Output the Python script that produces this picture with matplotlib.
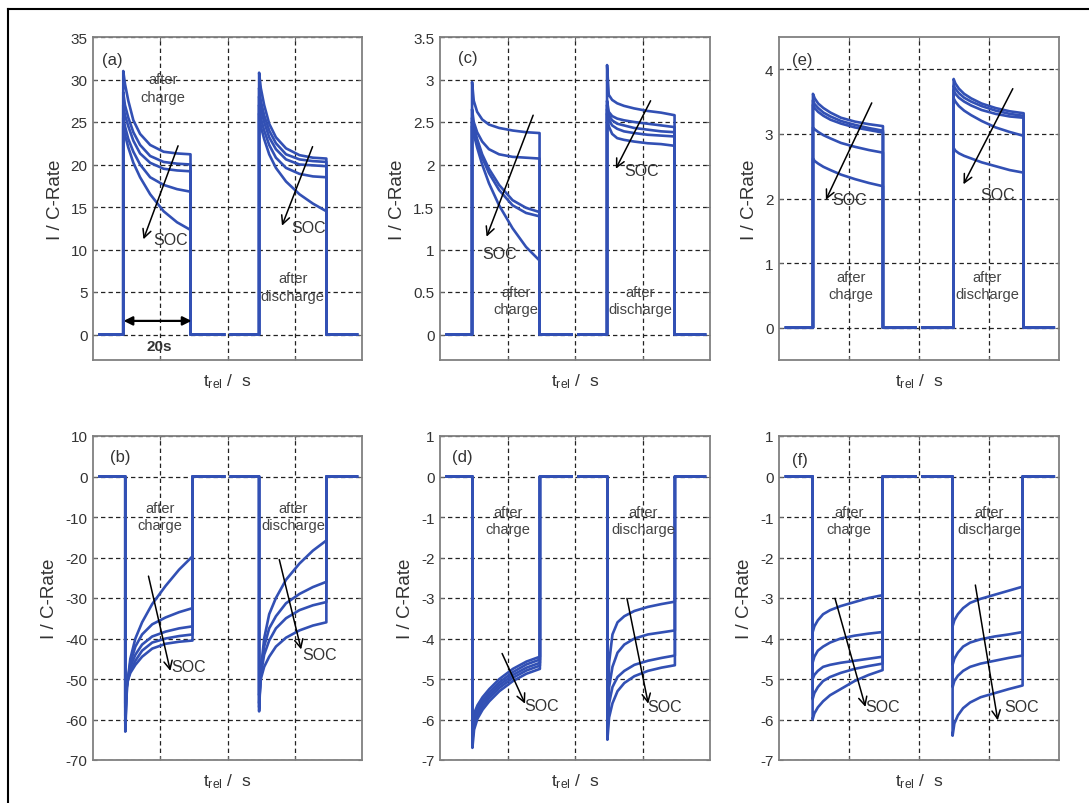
import numpy as np
import matplotlib.pyplot as plt
from matplotlib.lines import Line2D

plt.rcParams['font.family'] = ['Liberation Sans', 'DejaVu Sans']
plt.rcParams['mathtext.fontset'] = 'custom'
plt.rcParams['mathtext.rm'] = 'Liberation Sans'
plt.rcParams['mathtext.it'] = 'Liberation Sans:italic'
plt.rcParams['axes.unicode_minus'] = False

tau = [0, 0.5, 1.5, 3, 5, 8, 12, 16, 20]

# (a) charge pulses, I / C-rate
a_charge = [[31.0, 29.5, 27.5, 25.2, 23.6, 22.3, 21.5, 21.3, 21.2],
            [28.5, 27.0, 25.5, 23.8, 22.3, 21.0, 20.3, 20.1, 20.0],
            [27.0, 25.8, 24.5, 22.8, 21.3, 20.2, 19.5, 19.3, 19.2],
            [25.5, 24.5, 23.0, 21.5, 20.0, 18.5, 17.6, 17.1, 16.8],
            [24.5, 23.5, 22.0, 20.2, 18.5, 16.5, 14.5, 13.2, 12.3]]
a_discharge = [[30.8, 29.0, 27.0, 24.8, 23.2, 21.9, 21.1, 20.8, 20.7],
               [29.0, 27.5, 25.8, 24.0, 22.5, 21.2, 20.6, 20.4, 20.3],
               [28.0, 26.5, 25.0, 23.2, 21.8, 20.6, 20.0, 19.9, 19.8],
               [27.0, 25.5, 24.0, 22.3, 20.8, 19.6, 18.9, 18.6, 18.5],
               [26.0, 24.5, 23.0, 21.2, 19.6, 18.0, 16.5, 15.4, 14.5]]

# (c)
c_charge = [[2.97, 2.75, 2.62, 2.53, 2.47, 2.43, 2.40, 2.38, 2.37],
            [2.65, 2.50, 2.38, 2.27, 2.18, 2.12, 2.09, 2.08, 2.07],
            [2.55, 2.45, 2.30, 2.12, 1.95, 1.76, 1.58, 1.49, 1.44],
            [2.50, 2.40, 2.26, 2.08, 1.90, 1.70, 1.52, 1.43, 1.39],
            [2.45, 2.36, 2.20, 2.00, 1.78, 1.52, 1.25, 1.03, 0.87]]
c_discharge = [[3.17, 2.82, 2.76, 2.72, 2.69, 2.66, 2.63, 2.61, 2.58],
               [2.75, 2.62, 2.57, 2.54, 2.52, 2.50, 2.48, 2.46, 2.44],
               [2.70, 2.58, 2.52, 2.48, 2.46, 2.43, 2.41, 2.39, 2.38],
               [2.65, 2.53, 2.46, 2.42, 2.39, 2.37, 2.35, 2.34, 2.33],
               [2.60, 2.45, 2.36, 2.31, 2.29, 2.27, 2.25, 2.24, 2.22]]

# (e)
e_charge = [[3.62, 3.55, 3.47, 3.40, 3.33, 3.25, 3.19, 3.15, 3.12],
            [3.52, 3.46, 3.40, 3.33, 3.27, 3.20, 3.14, 3.09, 3.05],
            [3.45, 3.40, 3.34, 3.28, 3.22, 3.16, 3.10, 3.06, 3.02],
            [3.10, 3.07, 3.03, 2.98, 2.93, 2.86, 2.80, 2.75, 2.71],
            [2.62, 2.58, 2.54, 2.49, 2.44, 2.37, 2.30, 2.24, 2.19]]
e_discharge = [[3.85, 3.78, 3.70, 3.62, 3.55, 3.47, 3.40, 3.35, 3.32],
               [3.75, 3.70, 3.63, 3.56, 3.50, 3.43, 3.36, 3.31, 3.28],
               [3.68, 3.62, 3.56, 3.50, 3.44, 3.37, 3.31, 3.27, 3.25],
               [3.55, 3.50, 3.43, 3.36, 3.29, 3.20, 3.10, 3.03, 2.97],
               [2.78, 2.74, 2.70, 2.66, 2.62, 2.56, 2.50, 2.44, 2.40]]

# (b)
b_charge = [[-63, -52, -45, -40, -36, -31.5, -27, -23, -19.7],
            [-61, -52, -46, -42, -39, -36.5, -34.8, -33.5, -32.5],
            [-59, -51, -47, -44, -41.5, -39.5, -38.3, -37.5, -37.0],
            [-57, -51, -48, -45.5, -43, -41, -40, -39.4, -39.0],
            [-56, -51, -48.5, -46.5, -44.5, -42.5, -41.3, -40.8, -40.5]]
b_discharge = [[-58, -48, -40, -34, -30, -25.5, -21.5, -18.3, -15.8],
               [-57, -48, -42, -37.5, -34.5, -31.3, -29, -27.3, -26.0],
               [-56, -49, -44, -40.5, -37.5, -35, -33, -31.8, -31.0],
               [-54, -50, -47, -44.5, -42, -39.8, -38, -36.8, -36.0]]

# (d)
d_charge = [[-6.00, -5.85, -5.65, -5.45, -5.25, -5.00, -4.75, -4.57, -4.45],
            [-6.20, -5.95, -5.75, -5.53, -5.33, -5.08, -4.83, -4.64, -4.52],
            [-6.35, -6.05, -5.83, -5.60, -5.40, -5.15, -4.90, -4.72, -4.60],
            [-6.50, -6.15, -5.90, -5.68, -5.47, -5.22, -4.97, -4.79, -4.67],
            [-6.70, -6.25, -5.98, -5.76, -5.55, -5.30, -5.05, -4.87, -4.75]]
d_discharge = [[-6.00, -4.60, -3.90, -3.60, -3.45, -3.32, -3.22, -3.15, -3.09],
               [-6.20, -5.20, -4.70, -4.35, -4.15, -4.00, -3.90, -3.85, -3.80],
               [-6.35, -5.60, -5.20, -4.95, -4.80, -4.65, -4.55, -4.48, -4.42],
               [-6.50, -5.95, -5.60, -5.30, -5.10, -4.93, -4.80, -4.72, -4.66]]

# (f)
f_charge = [[-3.85, -3.70, -3.55, -3.40, -3.30, -3.20, -3.10, -3.00, -2.93],
            [-4.60, -4.45, -4.30, -4.20, -4.10, -4.00, -3.93, -3.88, -3.84],
            [-5.00, -4.90, -4.80, -4.70, -4.65, -4.60, -4.55, -4.50, -4.45],
            [-5.50, -5.35, -5.20, -5.05, -4.95, -4.85, -4.75, -4.68, -4.62],
            [-6.00, -5.85, -5.70, -5.55, -5.40, -5.25, -5.05, -4.90, -4.78]]
f_discharge = [[-3.70, -3.55, -3.40, -3.25, -3.12, -3.02, -2.92, -2.82, -2.72],
               [-4.65, -4.50, -4.35, -4.20, -4.10, -4.02, -3.95, -3.90, -3.84],
               [-5.20, -5.05, -4.92, -4.80, -4.70, -4.62, -4.55, -4.48, -4.42],
               [-6.40, -6.10, -5.90, -5.72, -5.58, -5.45, -5.35, -5.25, -5.16]]

# pulse start times (s) and the extent of each recorded zero line
a_starts, c_starts, e_starts = [9.0, 49.4], [9.5, 49.5], [9.7, 49.9]
b_starts, d_starts, f_starts = [9.6, 49.4], [9.6, 49.6], [9.6, 49.6]
runs = [(2, 39), (41, 78.5)]

a_ticks = [0, 5, 10, 15, 20, 25, 30, 35]
c_ticks = [0, 0.5, 1, 1.5, 2, 2.5, 3, 3.5]
e_ticks = [0, 1, 2, 3, 4]
b_ticks = [-70, -60, -50, -40, -30, -20, -10, 0, 10]
df_ticks = [-7, -6, -5, -4, -3, -2, -1, 0, 1]

blue = '#3250b4'
grey_txt = '#333333'

fig = plt.figure(figsize=(10.89, 8.04), dpi=100)

# outer frame of the figure (left and top edges)
fig.add_artist(Line2D([8 / 1089, 8 / 1089], [0, 1 - 10 / 804], color='black', lw=1.5))
fig.add_artist(Line2D([8 / 1089, 1], [1 - 10 / 804, 1 - 10 / 804], color='black', lw=1.5))

panels = [
    dict(name='(a)', pos=[93, 38, 362, 361], charge=a_charge, dis=a_discharge, starts=a_starts,
         ylim=(-3, 35), ticks=a_ticks, lbl=(5.6, 32.4),
         txt_c=(20.9, 29.0), txt_d=(59.4, 5.6),
         arr_c=((25.3, 22.2), (15.0, 11.2)), soc_c=(17.9, 11.2),
         arr_d=((65.3, 22.1), (56.2, 12.8)), soc_d=(59.0, 12.6)),
    dict(name='(c)', pos=[440, 38, 710, 361], charge=c_charge, dis=c_discharge, starts=c_starts,
         ylim=(-0.3, 3.5), ticks=c_ticks, lbl=(8.1, 3.26),
         txt_c=(22.5, 0.4), txt_d=(59.4, 0.4),
         arr_c=((27.6, 2.58), (13.8, 1.15)), soc_c=(12.6, 0.95),
         arr_d=((62.4, 2.75), (52.1, 1.95)), soc_d=(54.5, 1.93)),
    dict(name='(e)', pos=[779, 38, 1059, 361], charge=e_charge, dis=e_discharge, starts=e_starts,
         ylim=(-0.5, 4.5), ticks=e_ticks, lbl=(6.7, 4.15),
         txt_c=(20.5, 0.65), txt_d=(59.4, 0.65),
         arr_c=((26.5, 3.48), (13.4, 1.98)), soc_c=(15.2, 1.98),
         arr_d=((66.8, 3.70), (52.7, 2.22)), soc_d=(57.6, 2.06)),
    dict(name='(b)', pos=[93, 437, 362, 761], charge=b_charge, dis=b_discharge, starts=b_starts,
         ylim=(-70, 10), ticks=b_ticks, lbl=(8.0, 4.9),
         txt_c=(20.0, -9.9), txt_d=(59.5, -9.9),
         arr_c=((16.5, -24.6), (23.0, -48.0)), soc_c=(23.2, -46.8),
         arr_d=((55.4, -20.5), (61.9, -42.7)), soc_d=(62.3, -43.9)),
    dict(name='(d)', pos=[440, 437, 710, 761], charge=d_charge, dis=d_discharge, starts=d_starts,
         ylim=(-7, 1), ticks=df_ticks, lbl=(6.7, 0.5),
         txt_c=(20.1, -1.08), txt_d=(60.1, -1.08),
         arr_c=((18.4, -4.37), (25.2, -5.61)), soc_c=(25.0, -5.65),
         arr_d=((55.4, -3.01), (61.7, -5.61)), soc_d=(61.5, -5.69)),
    dict(name='(f)', pos=[779, 437, 1059, 761], charge=f_charge, dis=f_discharge, starts=f_starts,
         ylim=(-7, 1), ticks=df_ticks, lbl=(6.0, 0.41),
         txt_c=(19.9, -1.08), txt_d=(60.0, -1.08),
         arr_c=((16.0, -3.01), (24.7, -5.69)), soc_c=(24.6, -5.69),
         arr_d=((56.1, -2.68), (62.5, -6.02)), soc_d=(64.5, -5.69)),
]

W, H = 1089, 804
for p in panels:
    x0, y0, x1, y1 = p['pos']
    ax = fig.add_axes([x0 / W, 1 - y1 / H, (x1 - x0) / W, (y1 - y0) / H])

    for curves, t0, (r0, r1) in [(p['charge'], p['starts'][0], runs[0]),
                                 (p['dis'], p['starts'][1], runs[1])]:
        for vals in curves:
            xs = [r0, t0] + [t0 + s for s in tau] + [t0 + 20, r1]
            ys = [0, 0] + list(vals) + [0, 0]
            ax.plot(xs, ys, color=blue, lw=1.9, solid_joinstyle='round')

    ax.set_xlim(0, 80)
    ax.set_ylim(*p['ylim'])
    ax.set_xticks([20, 40, 60])
    ax.set_xticklabels([])
    ax.set_yticks(p['ticks'])
    ax.set_yticklabels(['%g' % v for v in p['ticks']], fontsize=11, color=grey_txt)
    ax.tick_params(direction='in', length=3, width=0.8, color='#666666',
                   right=True, top=True, pad=4)
    ax.grid(True, color='#222222', lw=0.9, linestyle=(0, (3.5, 2.5)))
    for s in ax.spines.values():
        s.set_color('#808080')
        s.set_linewidth(1.3)

    ax.set_ylabel('I / C-Rate', fontsize=13.5, color=grey_txt, labelpad=5)
    ax.set_xlabel(r'$\mathrm{t}_{\mathrm{rel}}$ /  s', fontsize=12.5, color=grey_txt, labelpad=4)

    ax.text(p['lbl'][0], p['lbl'][1], p['name'], fontsize=12, color=grey_txt,
            ha='center', va='center')
    ax.text(p['txt_c'][0], p['txt_c'][1], 'after\ncharge', fontsize=10.5, color='#444444',
            ha='center', va='center', linespacing=1.3)
    ax.text(p['txt_d'][0], p['txt_d'][1], 'after\ndischarge', fontsize=10.5, color='#444444',
            ha='center', va='center', linespacing=1.3)

    for (start, end), soc in [(p['arr_c'], p['soc_c']), (p['arr_d'], p['soc_d'])]:
        ax.annotate('', xy=end, xytext=start,
                    arrowprops=dict(arrowstyle='->', color='black', lw=1.1,
                                    mutation_scale=15, shrinkA=0, shrinkB=0))
        ax.text(soc[0], soc[1], 'SOC', fontsize=11.5, color=grey_txt, ha='left', va='center')

# 20 s marker in panel (a)
ax_a = fig.axes[0]
ax_a.annotate('', xy=(29.3, 1.6), xytext=(9.1, 1.6),
              arrowprops=dict(arrowstyle='<|-|>', color='black', lw=1.6,
                              mutation_scale=13, shrinkA=0, shrinkB=0))
ax_a.text(19.8, -1.4, '20s', fontsize=11, fontweight='bold', color=grey_txt,
          ha='center', va='center')

fig.savefig('out.png', dpi=100)
